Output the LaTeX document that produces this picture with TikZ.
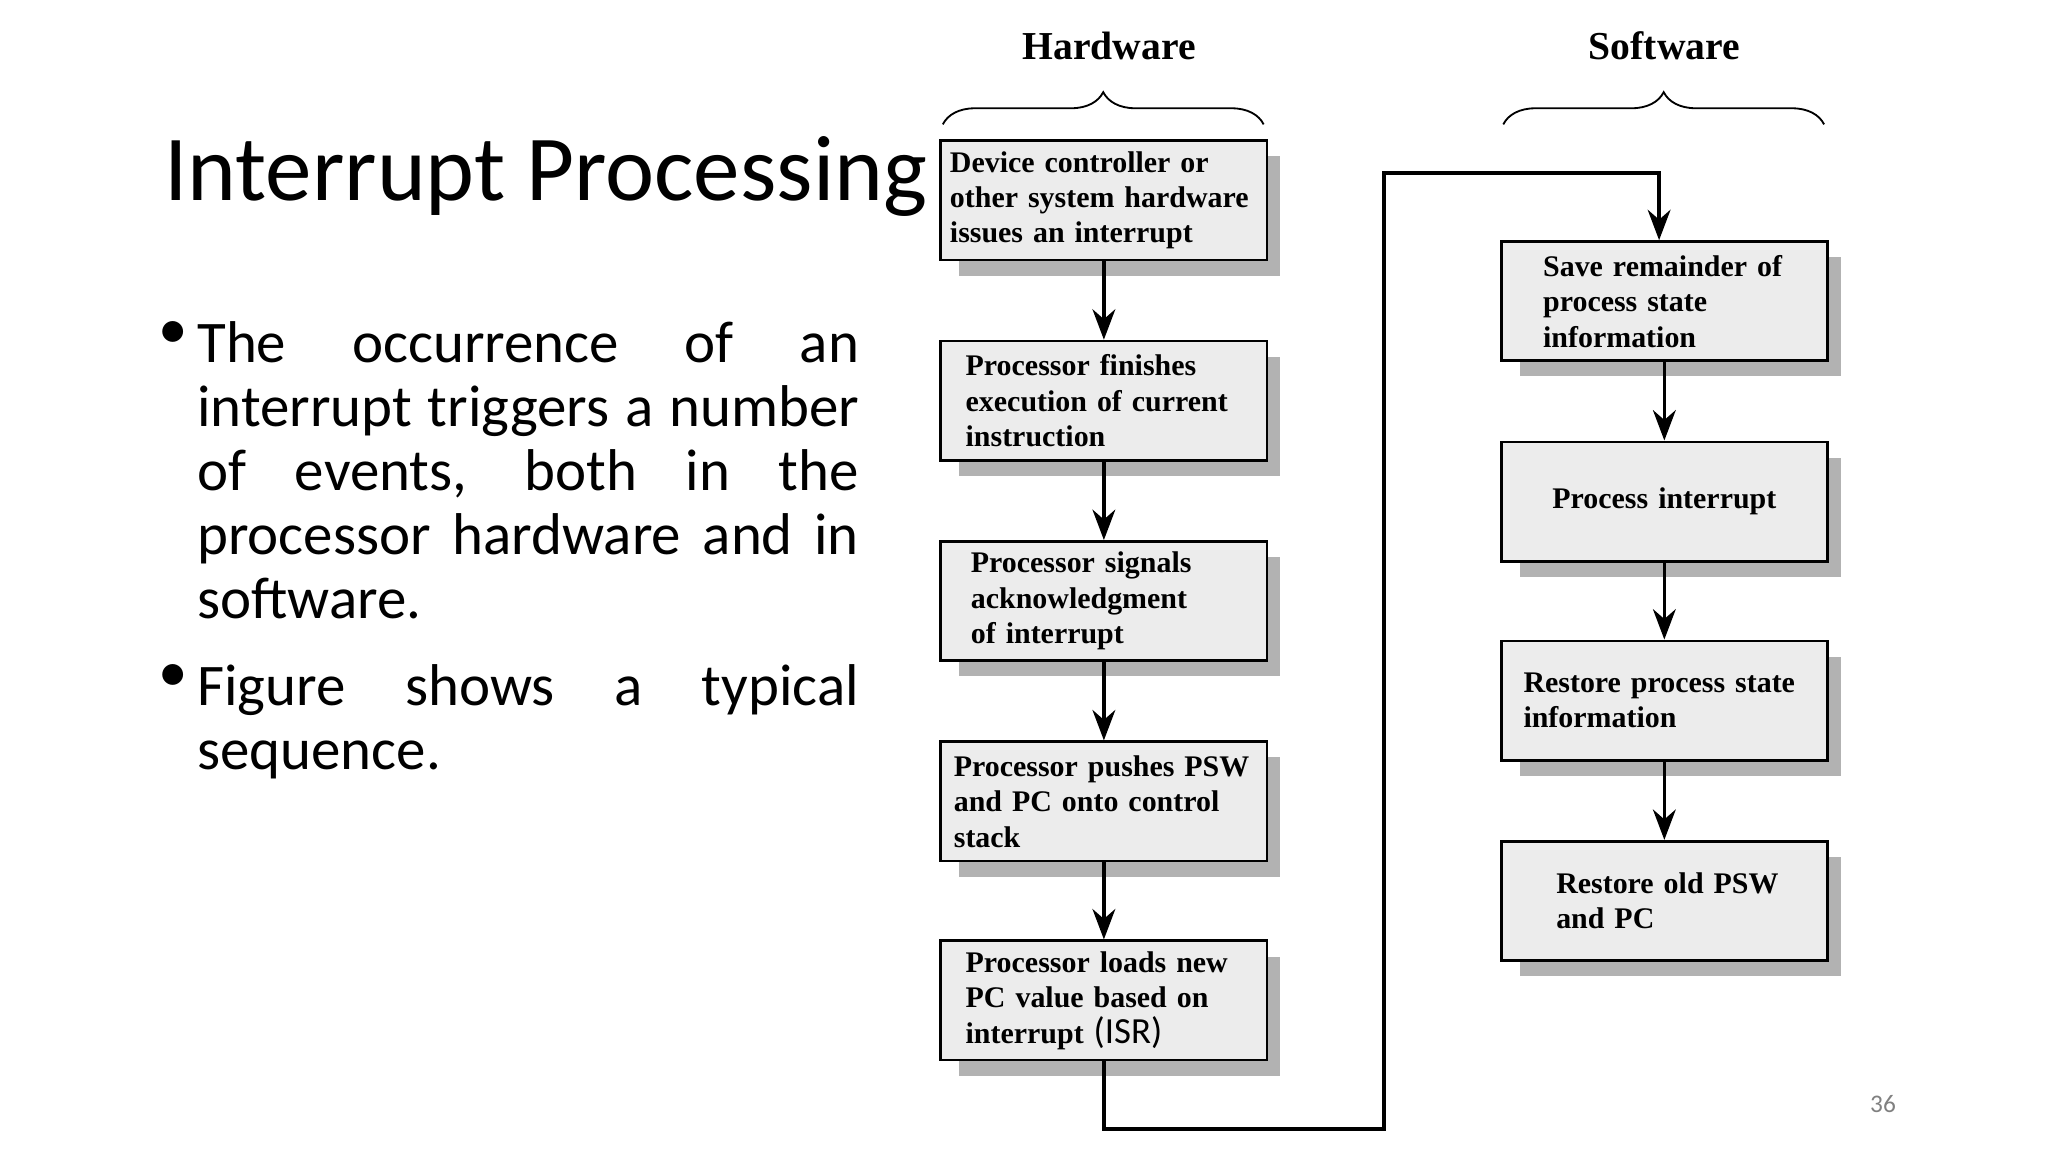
\documentclass[tikz,border=0pt]{standalone}
\usepackage{fontspec}
\setmainfont{Carlito}
\newfontfamily\boxfont{Liberation Serif}
\newfontfamily\slidefont{Carlito}
\usetikzlibrary{arrows.meta, positioning, decorations.pathreplacing}
\begin{document}
\begin{tikzpicture}[x=0.01cm, y=-0.01cm,
    stage/.style={rectangle, draw, semithick, fill=gray!15, minimum width=2.45cm, minimum height=0.91cm,
      text width=2.35cm, align=left, inner sep=2pt, font=\boxfont\bfseries\fontsize{6.5}{7.7}\selectfont},
    shade/.style={fill=gray!60, draw=none, minimum width=2.45cm, minimum height=0.91cm},
    arrow/.style={->, thick, >=Stealth},
    head/.style={font=\boxfont\bfseries\fontsize{8.6}{10}\selectfont},
    body/.style={anchor=north west, text width=5.05cm, align=justify, inner sep=0pt,
      font=\fontsize{12.8}{13.9}\selectfont},
    brace/.style={decorate, decoration={brace, amplitude=7pt}, thin}]
\useasboundingbox (0,0) rectangle (1564,880);

% Slide text
\node[anchor=west, font=\fontsize{20.2}{22}\selectfont] (title) at (113,135) {Interrupt Processing};
\node[body] (txta) at (150,245)
  {The occurrence of an\linebreak interrupt triggers a number\linebreak of events, both in the\linebreak processor hardware and in\linebreak software.};
\node[body] (txtb) at (150,507)
  {Figure shows a typical\linebreak sequence.};
\node[anchor=north west, inner sep=0pt, font=\fontsize{12.8}{13.9}\selectfont] (bula) at (120,245) {\textbullet};
\node[anchor=north west, inner sep=0pt, font=\fontsize{12.8}{13.9}\selectfont] (bulb) at (120,507) {\textbullet};
\node[text=gray, font=\fontsize{5.5}{6}\selectfont] (page) at (1438,843) {36};

% Headings and braces
\node[head] (hw) at (847,35) {Hardware};
\node[head] (sw) at (1271,35) {Software};
\draw[brace] (720,95) -- (965,95);
\draw[brace] (1148,95) -- (1393,95);

% Shadows
\foreach \y in {165,318,471,624,776} \node[shade] at (855,\y) {};
\foreach \y in {242,395,547,700} \node[shade] at (1283,\y) {};

% Hardware stages
\node[stage] (h1) at (843,153) {Device controller or\\ other system hardware\\ issues an interrupt};
\node[stage] (h2) at (843,306) {\hspace*{1.2mm}Processor finishes\\ \hspace*{1.2mm}execution of current\\ \hspace*{1.2mm}instruction};
\node[stage] (h3) at (843,459) {\hspace*{1.6mm}Processor signals\\ \hspace*{1.6mm}acknowledgment\\ \hspace*{1.6mm}of interrupt};
\node[stage] (h4) at (843,612) {\hspace*{0.3mm}Processor pushes PSW\\ \hspace*{0.3mm}and PC onto control\\ \hspace*{0.3mm}stack};
\node[stage] (h5) at (843,764) {\hspace*{1.2mm}Processor loads new\\ \hspace*{1.2mm}PC value based on\\ \hspace*{1.2mm}interrupt {\slidefont\mdseries\fontsize{8}{7.7}\selectfont(ISR)}};

% Software stages
\node[stage] (s1) at (1271,230) {\hspace*{2.5mm}Save remainder of\\ \hspace*{2.5mm}process state\\ \hspace*{2.5mm}information};
\node[stage, align=center] (s2) at (1271,383) {Process interrupt};
\node[stage] (s3) at (1271,535) {\hspace*{1mm}Restore process state\\ \hspace*{1mm}information\\[7.7pt]};
\node[stage] (s4) at (1271,688) {\hspace*{3.5mm}Restore old PSW\\ \hspace*{3.5mm}and PC};

% Arrows
\coordinate (bend) at (1057,862);
\coordinate (top) at (1267,132);
\draw[arrow] (h1) -- (h2);
\draw[arrow] (h2) -- (h3);
\draw[arrow] (h3) -- (h4);
\draw[arrow] (h4) -- (h5);
\draw[arrow] (s1) -- (s2);
\draw[arrow] (s2) -- (s3);
\draw[arrow] (s3) -- (s4);
\draw[arrow] (h5.south) |- (bend) |- (top) -- (top |- s1.north);
\end{tikzpicture}
\end{document}
